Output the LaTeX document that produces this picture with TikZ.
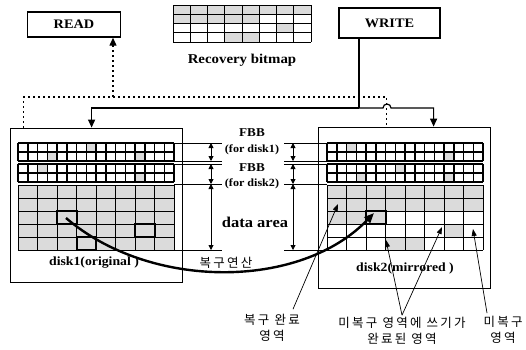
\documentclass[tikz,border=0pt]{standalone}
\usepackage{fontspec}
\setmainfont{Liberation Serif}[FakeStretch=1.1]
\newfontfamily\korfont[LetterSpace=18]{Noto Sans CJK KR}
\usetikzlibrary{arrows.meta,positioning}

\begin{document}
\begin{tikzpicture}[
    x=1pt, y=-1pt,
    box/.style={
        rectangle,
        draw,
        line width=1.4pt,
        font=\fontsize{13}{15}\selectfont\bfseries
    },
    disk/.style={
        rectangle,
        draw,
        line width=0.8pt
    },
    lbl/.style={
        font=\fontsize{12}{13}\selectfont\bfseries,
        inner sep=1pt
    },
    kor/.style={
        font=\fontsize{12.5}{16}\selectfont\korfont,
        align=center,
        inner sep=1pt
    },
    cellline/.style={draw, line width=0.9pt},
    shade/.style={fill=black!14},
    readline/.style={
        draw,
        line width=1.3pt,
        dash pattern=on 2pt off 3pt
    },
    writeline/.style={
        draw,
        line width=1.2pt
    },
    dim/.style={
        draw,
        line width=0.9pt,
        {Triangle[length=5pt,width=5pt]}-{Triangle[length=5pt,width=5pt]}
    },
    note/.style={
        draw,
        line width=0.7pt,
        -{Triangle[length=7pt,width=5pt]}
    }
]
    \useasboundingbox (0,0) rectangle (526,349);

    % --- Nodes ---

    % Top Row
    \node [box, minimum width=93, minimum height=25] (read) at (74,24.5) {READ};
    \node [box, minimum width=101, minimum height=30] (write) at (389.5,23) {WRITE};
    \node [minimum width=138, minimum height=37, inner sep=0pt] (bitmap) at (242,23.5) {};
    \node [lbl, font=\fontsize{13.5}{15}\selectfont\bfseries] (bmtext) at (242,60) {Recovery bitmap};

    % Disks
    \node [disk, minimum width=172, minimum height=154] (disk1) at (96,205) {};
    \node [disk, minimum width=172, minimum height=161] (disk2) at (404,207.5) {};
    \node [lbl, font=\fontsize{12.5}{14}\selectfont\bfseries] (d1name) at (94,263) {disk1(original )};
    \node [lbl, font=\fontsize{12.5}{14}\selectfont\bfseries] (d2name) at (405,268) {disk2(mirrored )};

    % Middle labels
    \node [lbl] (fbb1) at (252,133) {FBB};
    \node [lbl, font=\fontsize{11}{13}\selectfont\bfseries] (for1) at (252,150) {(for disk1)};
    \node [lbl] (fbb2) at (252,168) {FBB};
    \node [lbl, font=\fontsize{11}{13}\selectfont\bfseries] (for2) at (252,184) {(for disk2)};
    \node [lbl, font=\fontsize{15}{17}\selectfont\bfseries] (data) at (255,222) {data area};
    \node [kor] (recop) at (226,263) {복구연산};

    % Bottom notes
    \node [kor] (done) at (272,328) {복구 완료\\영역};
    \node [kor] (written) at (402,331) {미복구 영역에 쓰기가\\완료된 영역};
    \node [kor] (todo) at (503,330) {미복구\\영역};

    % --- Recovery bitmap grid ---
    \foreach \c/\r in {0/0,1/0,2/0,3/0,4/0,5/0,6/0,7/0,0/1,1/1,2/1,3/1,4/1,6/2,3/3,4/3}
        \fill [shade] (173+\c*17.25,5+\r*9.25) rectangle ++(17.25,9.25);
    \foreach \i in {0,...,8} \draw [cellline] (173+\i*17.25,5) -- ++(0,37);
    \foreach \j in {0,...,4} \draw [cellline] (173,5+\j*9.25) -- ++(138,0);

    % --- FBB grids ---
    \foreach \gx/\gy/\cells in {18/143/{7/0,3/1,12/1}, 18/164/{2/0,12/1},
                                327/143/{2/0,12/1}, 327/164/{7/0,3/1,12/1}} {
        \foreach \c/\r in \cells
            \fill [shade] (\gx+\c*9.75,\gy+\r*9) rectangle ++(9.75,9);
        \foreach \i in {0,...,16} \draw [cellline, line width=1.5pt] (\gx+\i*9.75,\gy) -- ++(0,18);
        \foreach \j in {0,1,2} \draw [cellline, line width=1.5pt] (\gx,\gy+\j*9) -- ++(156,0);
    }

    % --- Data areas ---
    \fill [shade] (18,185) rectangle (174,250);
    \foreach \c/\r in {0/0,1/0,2/0,3/0,4/0,5/0,6/0,7/0,0/1,1/1,2/1,3/1,4/1,5/1,6/1,7/1,
                       0/2,1/2,2/2,6/3,3/4,4/4}
        \fill [shade] (327+\c*19.5,185+\r*13) rectangle ++(19.5,13);
    \foreach \gx in {18,327} {
        \foreach \i in {0,...,8} \draw [cellline] (\gx+\i*19.5,185) -- ++(0,65);
        \foreach \j in {0,...,5} \draw [cellline] (\gx,185+\j*13) -- ++(156,0);
    }
    % cells being recovered
    \foreach \gx/\c/\r in {18/2/2, 18/3/4, 18/6/3, 327/2/2}
        \draw [line width=2pt] (\gx+\c*19.5,185+\r*13) rectangle ++(19.5,13);

    % --- Dimension marks ---
    \foreach \ly in {143,161,164,184,250} {
        \draw [line width=0.9pt] (174,\ly) -- (222,\ly);
        \draw [line width=0.9pt] (284,\ly) -- (327,\ly);
    }
    \foreach \dx in {211,293} {
        \path [dim] (\dx,143) -- (\dx,161);
        \path [dim] (\dx,164) -- (\dx,184);
        \path [dim] (\dx,184) -- (\dx,250);
    }

    % --- Connections ---

    % 1. Read path (dotted)
    \coordinate (rbus) at (113,97);
    \path [readline] ([xshift=14pt]disk1.north west) |- (rbus) -| ([xshift=69pt]disk2.north west);
    \path [readline, -{Triangle[length=8pt,width=7pt]}] (rbus) -- (rbus |- read.south);

    % 2. Write path (solid, hops over the read line)
    \coordinate (wbus) at (359,108);
    \path [writeline] (wbus |- write.south) -- (wbus);
    \path [writeline, -{Triangle[length=8pt,width=7pt]}] (wbus) -| ([xshift=82pt]disk1.north west);
    \path [writeline, -{Triangle[length=8pt,width=7pt]}] (wbus) -- (383,108)
        arc (180:360:4) -| ([xshift=116pt]disk2.north west);

    % 3. Recovery
    \coordinate (src) at (66,218);
    \coordinate (dst) at (374,213);
    \path [draw, line width=2.4pt, -{Triangle[length=10pt,width=8pt]}]
        (src) .. controls (150,290) and (300,290) .. (dst);

    % 4. Notes
    \coordinate (donecell) at (338,204);
    \coordinate (wrcellA) at (386,240);
    \coordinate (wrcellB) at (442,227);
    \coordinate (todocell) at (473,229);
    \path [note] ([xshift=21pt,yshift=4pt]done.north) -- (donecell);
    \path [note] ([yshift=1pt]written.north) -- (wrcellA);
    \path [note] ([yshift=1pt]written.north) -- (wrcellB);
    \path [note] ([xshift=-16pt,yshift=2pt]todo.north) -- (todocell);

\end{tikzpicture}
\end{document}
